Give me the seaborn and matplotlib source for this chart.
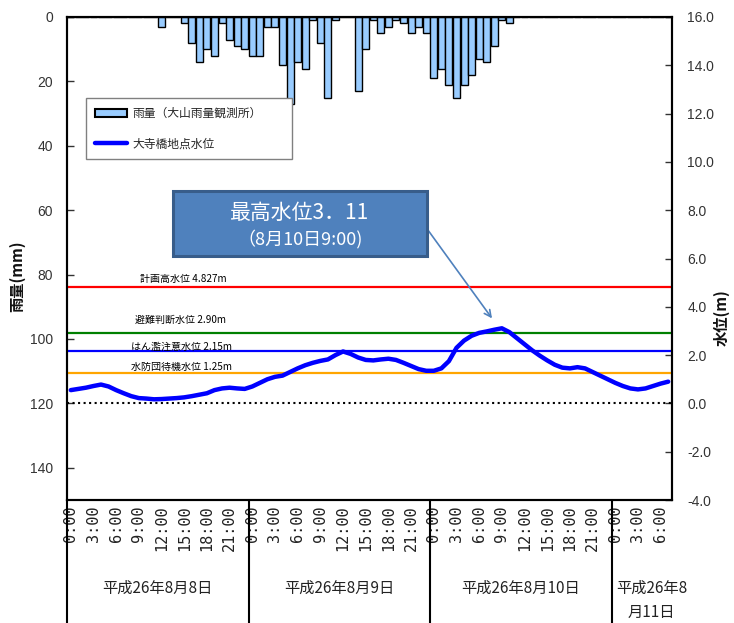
import numpy as np
import pandas as pd
import matplotlib
matplotlib.use("Agg")
import matplotlib.pyplot as plt
import matplotlib.transforms as mtransforms
from matplotlib.patches import Patch, FancyBboxPatch
from matplotlib.lines import Line2D
import seaborn as sns

# ---------------- data ----------------
hours = list(range(80))  # hourly index from 8/8 0:00 to 8/11 7:00
rain = [0, 0, 0, 0, 0, 0, 0, 0, 0, 0, 0, 0,
        3, 0, 0, 2, 8, 14, 10, 12, 2, 7, 9, 10,
        12, 12, 3, 3, 15, 27, 14, 16, 1, 8, 25, 1,
        0, 0, 23, 10, 1, 5, 3, 1, 2, 5, 3, 5,
        19, 16, 21, 25, 21, 18, 13, 14, 9, 1, 2, 0,
        0, 0, 0, 0, 0, 0, 0, 0, 0, 0, 0, 0,
        0, 0, 0, 0, 0, 0, 0, 0]
level = [0.55, 0.60, 0.65, 0.72, 0.78, 0.70, 0.55, 0.42, 0.30, 0.22, 0.20, 0.17,
         0.18, 0.20, 0.22, 0.25, 0.30, 0.36, 0.42, 0.55, 0.62, 0.65, 0.62, 0.60,
         0.70, 0.85, 1.00, 1.10, 1.15, 1.30, 1.45, 1.58, 1.68, 1.76, 1.82, 2.00,
         2.15, 2.05, 1.90, 1.80, 1.78, 1.82, 1.85, 1.80, 1.68, 1.55, 1.42, 1.35,
         1.35, 1.45, 1.75, 2.30, 2.60, 2.80, 2.92, 2.98, 3.05, 3.11, 2.95, 2.70,
         2.45, 2.20, 1.98, 1.78, 1.60, 1.48, 1.45, 1.50, 1.45, 1.30, 1.15, 1.00,
         0.85, 0.72, 0.62, 0.58, 0.62, 0.72, 0.82, 0.90]
tick_hours = list(range(0, 80, 3))
tick_labels = ["0:00", "3:00", "6:00", "9:00", "12:00", "15:00", "18:00", "21:00",
               "0:00", "3:00", "6:00", "9:00", "12:00", "15:00", "18:00", "21:00",
               "0:00", "3:00", "6:00", "9:00", "12:00", "15:00", "18:00", "21:00",
               "0:00", "3:00", "6:00"]
day_labels = ["平成26年8月8日", "平成26年8月9日", "平成26年8月10日", "平成26年8\n月11日"]
day_bounds = [-0.5, 23.5, 47.5, 71.5]
day_centers = [11.5, 35.5, 59.5, 76.8]
thr_values = [4.827, 2.90, 2.15, 1.25]
thr_labels = ["計画高水位 4.827m", "避難判断水位 2.90m", "はん濫注意水位 2.15m", "水防団待機水位 1.25m"]
thr_colors = ["#FF0000", "#008000", "#0000FF", "#FFA500"]
rain_ticks = [0, 20, 40, 60, 80, 100, 120, 140]
level_ticks = [-4, -2, 0, 2, 4, 6, 8, 10, 12, 14, 16]
legend_labels = ["雨量（大山雨量観測所）", "大寺橋地点水位"]
peak_text = ["最高水位3．11", "（8月10日9:00)"]

df = pd.DataFrame({"hour": hours, "rain": rain, "level": level})

# ---------------- style ----------------
sns.set_theme(style="white")
plt.rcParams["font.family"] = ["Noto Sans CJK JP", "DejaVu Sans"]
plt.rcParams["axes.unicode_minus"] = False

W, H = 734, 623
fig = plt.figure(figsize=(W / 100, H / 100), dpi=100)
L, R, T, B = 67, 672, 17, 500
ax = fig.add_axes([L / W, 1 - B / H, (R - L) / W, (B - T) / H])
ax2 = ax.twinx()

# rain bars
sns.barplot(data=df, x="hour", y="rain", ax=ax, native_scale=True,
            color="#99CCFF", saturation=1, edgecolor="black", linewidth=1.0,
            width=0.92)
ax.set_xlim(-0.5, 79.5)
ax.set_ylim(150, 0)
ax.set_yticks(rain_ticks)
ax.set_xlabel("")
ax.set_ylabel("")

# water level
sns.lineplot(data=df, x="hour", y="level", ax=ax2, color="#0000FF", linewidth=3.2)
ax2.set_ylim(-4, 16)
ax2.set_yticks(level_ticks)
ax2.set_yticklabels([f"{v:.1f}" for v in level_ticks])
ax2.set_xlabel("")
ax2.set_ylabel("")

for v, c in zip(thr_values, thr_colors):
    ax2.axhline(v, color=c, linewidth=1.6, zorder=1)
ax2.axhline(0, color="black", linewidth=1.5, linestyle=":", zorder=1)

# threshold labels (pixel positions from left and offsets above line)
thr_x = [140, 135, 131, 131]
thr_dy = [8, 13, 5, 6]
blend2 = mtransforms.blended_transform_factory(fig.transFigure, ax2.transData)
for lab, v, xp, dy in zip(thr_labels, thr_values, thr_x, thr_dy):
    ax2.annotate(lab, xy=(xp / W, v), xycoords=blend2, xytext=(0, dy),
                 textcoords="offset pixels", fontsize=7.2, ha="left", va="center",
                 color="black")

# ticks
ax.set_xticks(tick_hours)
ax.set_xticklabels(tick_labels, rotation=90, fontfamily="DejaVu Sans Mono",
                   fontsize=11, color="#222222")
ax.tick_params(axis="x", length=0, pad=4)
ax.tick_params(axis="y", direction="in", length=5, width=1, color="#333333",
               labelsize=10, labelcolor="#333333", pad=10)
ax2.tick_params(axis="y", direction="in", length=5, width=1, color="#333333",
                labelsize=10, labelcolor="#333333", pad=11)
for t in ax.get_yticklabels() + ax2.get_yticklabels():
    t.set_fontfamily("Liberation Sans")

for a in (ax, ax2):
    for s in a.spines.values():
        s.set_color("black")
        s.set_linewidth(1.5)

# day separators and day labels
blend = mtransforms.blended_transform_factory(ax.transData, ax.transAxes)
for b in day_bounds:
    ax.plot([b, b], [0, -0.26], transform=blend, color="black", lw=1.5, clip_on=False)
for cx, lab in zip(day_centers, day_labels):
    yy = -0.182 if "\n" not in lab else -0.208
    ax.text(cx, yy, lab, transform=blend, ha="center", va="center",
            fontsize=11, color="#222222", linespacing=1.6)

# axis titles
fig.text(17 / W, 1 - 276 / H, "雨量(mm)", rotation=90, ha="center", va="center",
         fontsize=11, fontweight="bold", color="#111111")
fig.text(722 / W, 1 - 318 / H, "水位(m)", rotation=90, ha="center", va="center",
         fontsize=11, fontweight="bold", color="#111111")

# legend
handles = [Patch(facecolor="#99CCFF", edgecolor="black", linewidth=1.5),
           Line2D([], [], color="#0000FF", linewidth=3.2)]
leg = ax2.legend(handles, legend_labels, loc="upper left",
                 bbox_to_anchor=(86 / W, 1 - 98 / H, 206 / W, 0.0),
                 bbox_transform=fig.transFigure, mode="expand",
                 fontsize=8.5, frameon=True, fancybox=False, edgecolor="#808080",
                 framealpha=1, borderpad=0.75, labelspacing=1.5,
                 handlelength=2.7, handleheight=0.7, handletextpad=0.5,
                 borderaxespad=0)
leg.get_frame().set_linewidth(1.0)

# annotation box
bx0, by0, bx1, by1 = 173, 191, 427, 256
shadow = FancyBboxPatch((bx0 / W + 2 / W, 1 - by1 / H - 2 / H), (bx1 - bx0) / W, (by1 - by0) / H,
                        boxstyle="square,pad=0", transform=fig.transFigure,
                        facecolor="#9FA9B8", edgecolor="none", zorder=9)
box = FancyBboxPatch((bx0 / W, 1 - by1 / H), (bx1 - bx0) / W, (by1 - by0) / H,
                     boxstyle="square,pad=0", transform=fig.transFigure,
                     facecolor="#4F81BD", edgecolor="#385D8A", linewidth=2.2, zorder=10)
fig.patches.extend([shadow, box])
fig.text(300 / W, 1 - 213 / H, peak_text[0], ha="center", va="center",
         fontsize=15, color="white", zorder=11)
fig.text(300 / W, 1 - 239 / H, peak_text[1], ha="center", va="center",
         fontsize=13, color="white", zorder=11)
ax2.annotate("", xy=(55.7, 3.52), xycoords="data",
             xytext=(425 / W, 1 - 226 / H), textcoords="figure fraction",
             arrowprops=dict(arrowstyle="->", color="#4F81BD", lw=1.2,
                             shrinkA=0, shrinkB=0, mutation_scale=12))

fig.savefig("out.png", dpi=100, facecolor="white")
